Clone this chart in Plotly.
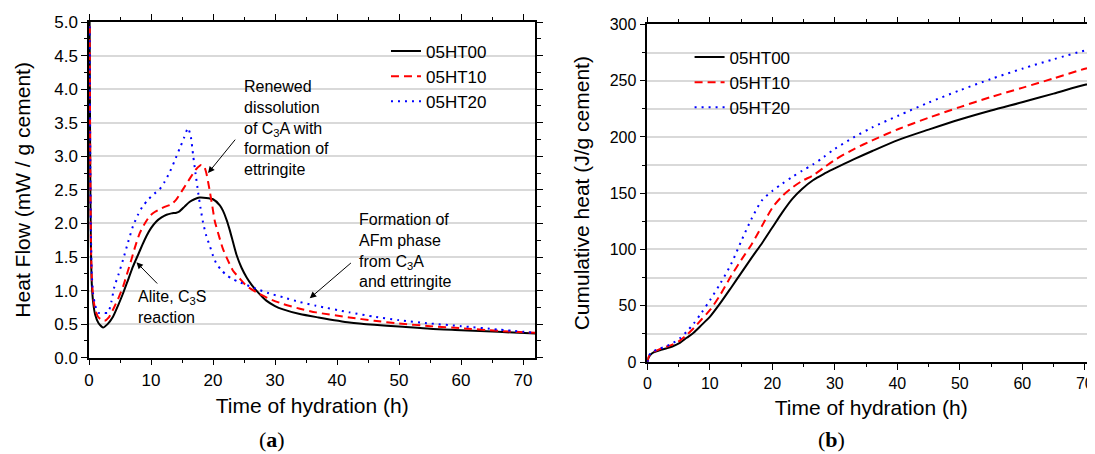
import plotly.graph_objects as go

# ---------------- data: heat flow (a) ----------------
names = ["05HT00", "05HT10", "05HT20"]
colors = ["#000000", "#ff0000", "#0000ff"]
dashes = ["solid", "8px,5px", "2px,5px"]

t_flow_00 = [0, 0.1, 0.2, 0.3, 0.45, 0.7, 1.0, 1.5, 2.26, 3.0, 3.87, 4.7, 5.5, 6.3, 7.1, 7.9, 8.6,
             9.25, 10.0, 10.86, 11.7, 12.5, 13.3, 14.1, 14.6, 15.4, 16.2, 17.0, 17.8, 18.9, 20.0,
             21.1, 21.6, 22.2, 22.7, 23.2, 23.8, 24.6, 25.4, 26.2, 27.0, 28.6, 30.0, 31.3, 34.0,
             37.0, 42.0, 46.0, 50.0, 55.0, 60.0, 66.0, 72.0]
flow_00 = [9.0, 5.0, 2.8, 1.7, 1.1, 0.8, 0.64, 0.52, 0.45, 0.5, 0.61, 0.78, 0.96, 1.16, 1.36, 1.53,
           1.68, 1.81, 1.93, 2.03, 2.09, 2.13, 2.15, 2.16, 2.18, 2.25, 2.32, 2.36, 2.385, 2.38, 2.36,
           2.27, 2.19, 2.05, 1.9, 1.73, 1.53, 1.34, 1.2, 1.09, 1.0, 0.85, 0.77, 0.72, 0.65, 0.6,
           0.525, 0.49, 0.465, 0.43, 0.41, 0.385, 0.36]

t_flow_10 = [0, 0.1, 0.2, 0.3, 0.45, 0.7, 1.0, 1.45, 2.0, 2.53, 3.2, 4.1, 4.8, 5.5, 6.2, 6.83, 7.5,
             8.2, 9.0, 9.8, 10.6, 11.4, 12.3, 13.3, 14.1, 15.1, 16.2, 17.3, 18.1, 18.6, 18.9, 19.2,
             19.5, 19.9, 20.3, 21.0, 21.6, 22.4, 23.2, 24.3, 25.4, 27.5, 29.0, 31.3, 34.0, 36.6,
             42.0, 46.0, 50.0, 55.0, 60.0, 66.0, 72.0]
flow_10 = [9.0, 5.2, 3.0, 1.8, 1.18, 0.88, 0.72, 0.61, 0.565, 0.55, 0.6, 0.76, 0.9, 1.06, 1.27,
           1.46, 1.67, 1.86, 2.0, 2.11, 2.17, 2.21, 2.25, 2.285, 2.36, 2.5, 2.66, 2.81, 2.87, 2.84,
           2.76, 2.62, 2.47, 2.25, 2.03, 1.8, 1.62, 1.45, 1.3, 1.18, 1.07, 0.95, 0.88, 0.8, 0.73,
           0.675, 0.6, 0.55, 0.51, 0.47, 0.44, 0.4, 0.37]

t_flow_20 = [0, 0.1, 0.2, 0.3, 0.45, 0.65, 1.0, 1.45, 2.2, 3.07, 3.6, 4.1, 4.8, 5.49, 6.3, 7.1,
             7.9, 8.7, 9.6, 10.5, 11.4, 12.2, 13.0, 13.8, 14.6, 15.3, 15.97, 16.4, 16.8, 17.2, 17.6,
             18.0, 18.4, 18.9, 19.5, 20.0, 20.5, 21.3, 22.1, 23.0, 24.0, 25.5, 27.0, 29.0, 31.3,
             34.0, 36.6, 42.0, 46.0, 50.0, 55.0, 60.0, 66.0, 72.0]
flow_20 = [9.0, 5.3, 3.1, 1.9, 1.25, 0.96, 0.78, 0.67, 0.67, 0.67, 0.83, 1.06, 1.25, 1.46, 1.72,
           1.96, 2.13, 2.26, 2.36, 2.44, 2.51, 2.62, 2.76, 2.93, 3.11, 3.27, 3.42, 3.3, 3.01, 2.73,
           2.46, 2.22, 2.01, 1.82, 1.66, 1.52, 1.41, 1.31, 1.235, 1.18, 1.135, 1.08, 1.025, 0.96,
           0.9, 0.83, 0.775, 0.675, 0.61, 0.56, 0.51, 0.47, 0.42, 0.37]

# ---------------- data: cumulative heat (b) ----------------
t_cum = [0, 0.2, 0.5, 1, 2, 3, 4, 5.2, 6.3, 7.4, 8.7, 10.1, 11.7, 13.4, 15, 16.7, 18.4, 20, 21.6,
         23.2, 24.8, 26.5, 28.2, 30, 33, 36, 40.2, 45, 50, 55, 60.1, 65, 70.2, 72]
cum_00 = [0, 4, 6.5, 8.5, 10.5, 12, 13.8, 17, 21.5, 26, 33, 40.8, 52.5, 66, 79, 92.7, 106, 119.5,
          133, 145, 154, 161.5, 167, 172, 180, 187.5, 197.4, 206.5, 215.5, 223.5, 231, 238.5,
          246.5, 248]
cum_10 = [0, 4.5, 7, 9, 11.5, 13.5, 15.5, 19, 24, 30, 38, 46.7, 60, 76.4, 90.5, 104.7, 121.5, 137,
          147.5, 155, 161, 165.8, 172.5, 179.6, 189, 197, 207, 217, 226.5, 235.5, 243.8, 252,
          260.8, 262.5]
cum_20 = [0, 5, 7.5, 9.5, 12, 14, 16.5, 21, 27, 34, 44, 55.6, 70, 86.9, 107, 127.5, 144, 152,
          158.5, 164.5, 170, 175.5, 182, 189.4, 199.5, 208.5, 219, 230.5, 241.4, 251.5, 260.8,
          269, 277, 279]

flow_t = [t_flow_00, t_flow_10, t_flow_20]
flow_v = [flow_00, flow_10, flow_20]
cum_v = [cum_00, cum_10, cum_20]

SANS = "Arial, Liberation Sans, sans-serif"

fig = go.Figure()
for i in range(3):
    fig.add_trace(go.Scatter(
        x=flow_t[i], y=flow_v[i], mode="lines", name=names[i],
        line=dict(color=colors[i], width=2, dash=dashes[i], shape="spline", smoothing=0.6),
        xaxis="x", yaxis="y", legend="legend"))
for i in range(3):
    fig.add_trace(go.Scatter(
        x=t_cum, y=cum_v[i], mode="lines", name=names[i],
        line=dict(color=colors[i], width=2, dash=dashes[i], shape="spline", smoothing=0.8),
        xaxis="x2", yaxis="y2", legend="legend2"))

axis_common = dict(
    showline=True, linecolor="black", linewidth=1.5,
    ticks="outside", ticklen=6, tickwidth=1.3, tickcolor="black",
    zeroline=False, color="black", automargin=False,
)

# The page body adds an 8 px offset, so the figure is 8 px smaller than the window
fig.update_layout(
    width=1087, height=446,
    margin=dict(l=81, r=0, t=14, b=92),
    paper_bgcolor="white", plot_bgcolor="white",
    font=dict(family=SANS, color="black"),
    xaxis=dict(
        **axis_common, domain=[0, 0.4438], range=[0, 72], dtick=10, tick0=0,
        mirror="ticks", showgrid=False, anchor="y",
        tickfont=dict(size=17),
        minor=dict(dtick=5, ticks="outside", ticklen=3.5, tickcolor="black", showgrid=False),
        title=dict(text="Time of hydration (h)", font=dict(size=21), standoff=9),
    ),
    yaxis=dict(
        **axis_common, domain=[0.0126, 1], range=[0, 5], dtick=0.5, tick0=0,
        tickformat=".1f", mirror="ticks", anchor="x",
        showgrid=True, gridcolor="#d9d9d9", gridwidth=1.5,
        tickfont=dict(size=17),
        minor=dict(dtick=0.25, ticks="outside", ticklen=3.5, tickcolor="black", showgrid=False),
        title=dict(text="Heat Flow (mW / g cement)", font=dict(size=21), standoff=18),
    ),
    xaxis2=dict(
        **axis_common, domain=[0.555, 1], range=[0, 71.63], dtick=10, tick0=0,
        mirror="ticks", showgrid=False, anchor="y2",
        tickfont=dict(size=16),
        minor=dict(dtick=5, ticks="outside", ticklen=3.5, tickcolor="black", showgrid=False),
        title=dict(text="Time of hydration (h)", font=dict(size=21), standoff=9),
    ),
    yaxis2=dict(
        **axis_common, domain=[0.0, 0.993], range=[0, 300], dtick=50, tick0=0,
        mirror=False, anchor="x2",
        showgrid=True, gridcolor="#d9d9d9", gridwidth=1.5,
        tickfont=dict(size=16),
        minor=dict(dtick=25, ticks="outside", ticklen=3.5, tickcolor="black",
                   showgrid=True, gridcolor="#d9d9d9", gridwidth=1.5),
        title=dict(text="Cumulative heat (J/g cement)", font=dict(size=21), standoff=14),
    ),
    legend=dict(x=0.2952, y=0.966, xanchor="left", yanchor="top",
                bgcolor="rgba(0,0,0,0)", font=dict(size=17), tracegroupgap=0,
                itemwidth=30),
    legend2=dict(x=0.597, y=0.9485, xanchor="left", yanchor="top",
                 bgcolor="rgba(0,0,0,0)", font=dict(size=17), tracegroupgap=0,
                 itemwidth=30),
    showlegend=True,
)

ann_font = dict(family=SANS, size=16, color="black")
texts = [
    ("Renewed<br>dissolution<br>of C<sub>3</sub>A with<br>formation of<br>ettringite", 24.6, 4.2),
    ("Alite, C<sub>3</sub>S<br>reaction", 7.6, 1.07),
    ("Formation of<br>AFm phase<br>from C<sub>3</sub>A<br>and ettringite", 43.2, 2.22),
]
for txt, tx, ty in texts:
    fig.add_annotation(text=txt, x=tx, y=ty, xref="x", yref="y", showarrow=False,
                       xanchor="left", yanchor="top", align="left", font=ann_font)

arrows = [
    (19.2, 2.75, 23.77, 3.27),
    (7.65, 1.42, 11.24, 1.083),
    (35.6, 0.885, 42.48, 1.43),
]
for hx, hy, tx, ty in arrows:
    fig.add_annotation(text="", x=hx, y=hy, ax=tx, ay=ty, xref="x", yref="y",
                       axref="x", ayref="y", showarrow=True, arrowhead=2,
                       arrowsize=1.3, arrowwidth=1, arrowcolor="black", standoff=0)

serif = "Palatino Linotype, Book Antiqua, Liberation Serif, DejaVu Serif, serif"
fig.add_annotation(text="(<b>a</b>)", x=0.1824, y=-0.229, xref="paper", yref="paper",
                   showarrow=False, xanchor="center", yanchor="middle",
                   font=dict(family=serif, size=22, color="black"))
fig.add_annotation(text="(<b>b</b>)", x=0.7376, y=-0.229, xref="paper", yref="paper",
                   showarrow=False, xanchor="center", yanchor="middle",
                   font=dict(family=serif, size=22, color="black"))

fig.write_html("out.html")
